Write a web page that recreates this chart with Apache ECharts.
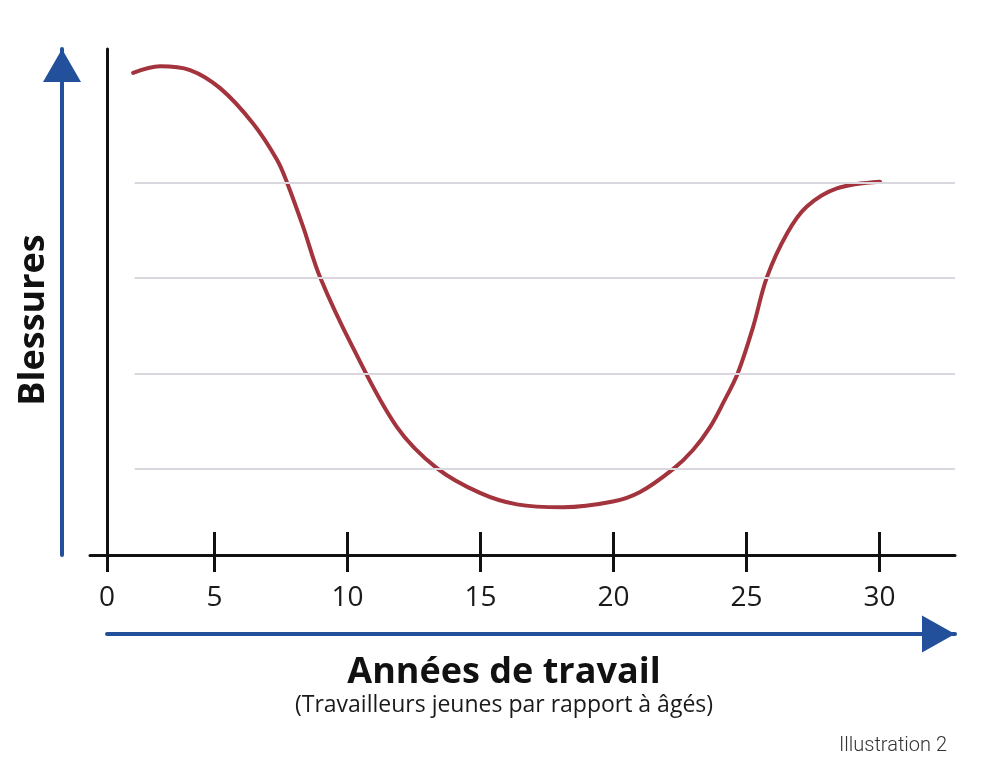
<!DOCTYPE html>
<html>
<head>
<meta charset="utf-8">
<script src="https://cdn.jsdelivr.net/npm/echarts@6/dist/echarts.min.js"></script>
<style>html,body{margin:0;padding:0;background:#fff}#c{width:1008px;height:772px}</style>
</head>
<body>
<div id="c"></div>
<script>
// ---- data ----
const years = [1.94, 2.95, 4.08, 5.21, 6.45, 7.35, 7.73, 8.33, 8.97, 10.21, 11.86, 13.36, 14.98, 16.37, 18.10, 19.98, 21.00, 22.24, 22.99, 23.63, 24.12, 24.68, 25.25, 25.77, 26.53, 27.27, 28.40, 30.02];
const injuries = [5.15, 5.22, 5.18, 4.99, 4.62, 4.24, 4.00, 3.54, 3.01, 2.27, 1.44, 1.01, 0.75, 0.63, 0.60, 0.66, 0.76, 1.00, 1.20, 1.44, 1.69, 2.01, 2.49, 3.01, 3.47, 3.75, 3.94, 4.01];
const tickValues = [0, 5, 10, 15, 20, 25, 30];
const tickLabels = ['0', '5', '10', '15', '20', '25', '30'];
const gridValues = [1, 2, 3, 4];
const xTitle = 'Années de travail';
const xSubtitle = '(Travailleurs jeunes par rapport à âgés)';
const yTitle = 'Blessures';
const caption = 'Illustration 2';

// ---- scale / layout settings ----
const X_MIN = 0.32, X_MAX = 32.84, Y_MIN = 0.1, Y_MAX = 5.4;
const ZERO_AT = 0.96;     // the illustration prints "0" where the vertical axis stands
const GRID_START = 2.0;   // horizontal guide lines start here
const BLUE = '#22509a', CURVE = '#a3333d', INK = '#111111';

const tickPos = tickValues.map(v => v === 0 ? ZERO_AT : v);
const labelFor = v => { const i = tickPos.indexOf(v); return i >= 0 ? tickLabels[i] : ''; };

const chart = echarts.init(document.getElementById('c'), null, {renderer: 'canvas'});
chart.setOption({
  animation: false,
  backgroundColor: '#ffffff',
  title: [
    {
      text: xTitle, subtext: xSubtitle, left: 'center', top: 650, itemGap: 3,
      padding: [5, 0, 5, 11],
      textStyle: {fontSize: 36, fontWeight: 'bold', fontFamily: 'Open Sans', color: INK},
      subtextStyle: {fontSize: 23, fontFamily: 'Open Sans', color: '#1a1a1a'}
    },
    {
      text: caption, right: 56, top: 731,
      textStyle: {fontSize: 20, fontWeight: 300, fontFamily: 'Roboto', color: '#333'}
    }
  ],
  grid: [
    {left: 90, right: 53, top: 49, bottom: 217},
    {left: 107, right: 53, top: 49, bottom: 217}
  ],
  xAxis: [
    {
      gridIndex: 0, type: 'value', position: 'bottom', min: X_MIN, max: X_MAX,
      axisLine: {show: true, onZero: false, lineStyle: {color: INK, width: 3}},
      axisTick: {show: true, customValues: tickPos, length: 17, inside: false, lineStyle: {color: INK, width: 3}},
      axisLabel: {show: true, customValues: tickPos, formatter: labelFor, margin: 29, fontSize: 28, fontFamily: 'Open Sans', color: '#1a1a1a'},
      splitLine: {show: false}
    },
    {
      gridIndex: 0, type: 'value', position: 'bottom', min: X_MIN, max: X_MAX,
      axisLine: {show: false},
      axisTick: {show: true, customValues: tickValues.filter(v => v > 0), length: 23, inside: true, lineStyle: {color: INK, width: 3}},
      axisLabel: {show: false},
      splitLine: {show: false}
    },
    {
      gridIndex: 1, type: 'value', position: 'bottom', offset: 79, min: 0, max: 1,
      axisLine: {show: true, onZero: false, symbol: ['none', 'triangle'], symbolSize: [37, 33], symbolOffset: [0, -16.5], lineStyle: {color: BLUE, width: 4}},
      axisTick: {show: false}, axisLabel: {show: false}, splitLine: {show: false}
    }
  ],
  yAxis: [
    {gridIndex: 0, type: 'value', min: Y_MIN, max: Y_MAX, show: false, splitLine: {show: false}},
    {
      gridIndex: 1, type: 'value', position: 'left', min: 0, max: 1,
      axisLine: {show: true, onZero: false, lineStyle: {color: INK, width: 3}},
      axisTick: {show: false}, axisLabel: {show: false}, splitLine: {show: false}
    },
    {
      gridIndex: 1, type: 'value', position: 'left', offset: 45, min: 0, max: 1,
      axisLine: {show: true, onZero: false, symbol: ['none', 'triangle'], symbolSize: [38, 33], symbolOffset: [0, -16.5], lineStyle: {color: BLUE, width: 4}},
      axisTick: {show: false}, axisLabel: {show: false}, splitLine: {show: false},
      name: yTitle, nameLocation: 'middle', nameRotate: 90, nameGap: 10,
      nameTextStyle: {fontSize: 36, fontWeight: 'bold', fontFamily: 'Open Sans', color: INK, padding: [0, 36, 0, 0]}
    }
  ],
  series: [
    {
      type: 'line', xAxisIndex: 0, yAxisIndex: 0, data: [], z: 1, silent: true,
      markLine: {
        silent: true, symbol: ['none', 'none'], label: {show: false}, animation: false,
        lineStyle: {color: '#dad8de', width: 2, type: 'solid'},
        emphasis: {disabled: true},
        data: gridValues.map(g => [{coord: [GRID_START, g]}, {coord: [X_MAX, g]}])
      }
    },
    {
      type: 'line', xAxisIndex: 0, yAxisIndex: 0, z: 3, smooth: 0.35, symbol: 'none', showSymbol: false,
      lineStyle: {color: CURVE, width: 4, cap: 'round', join: 'round'},
      data: years.map((x, i) => [x, injuries[i]])
    }
  ]
});
</script>
</body>
</html>
